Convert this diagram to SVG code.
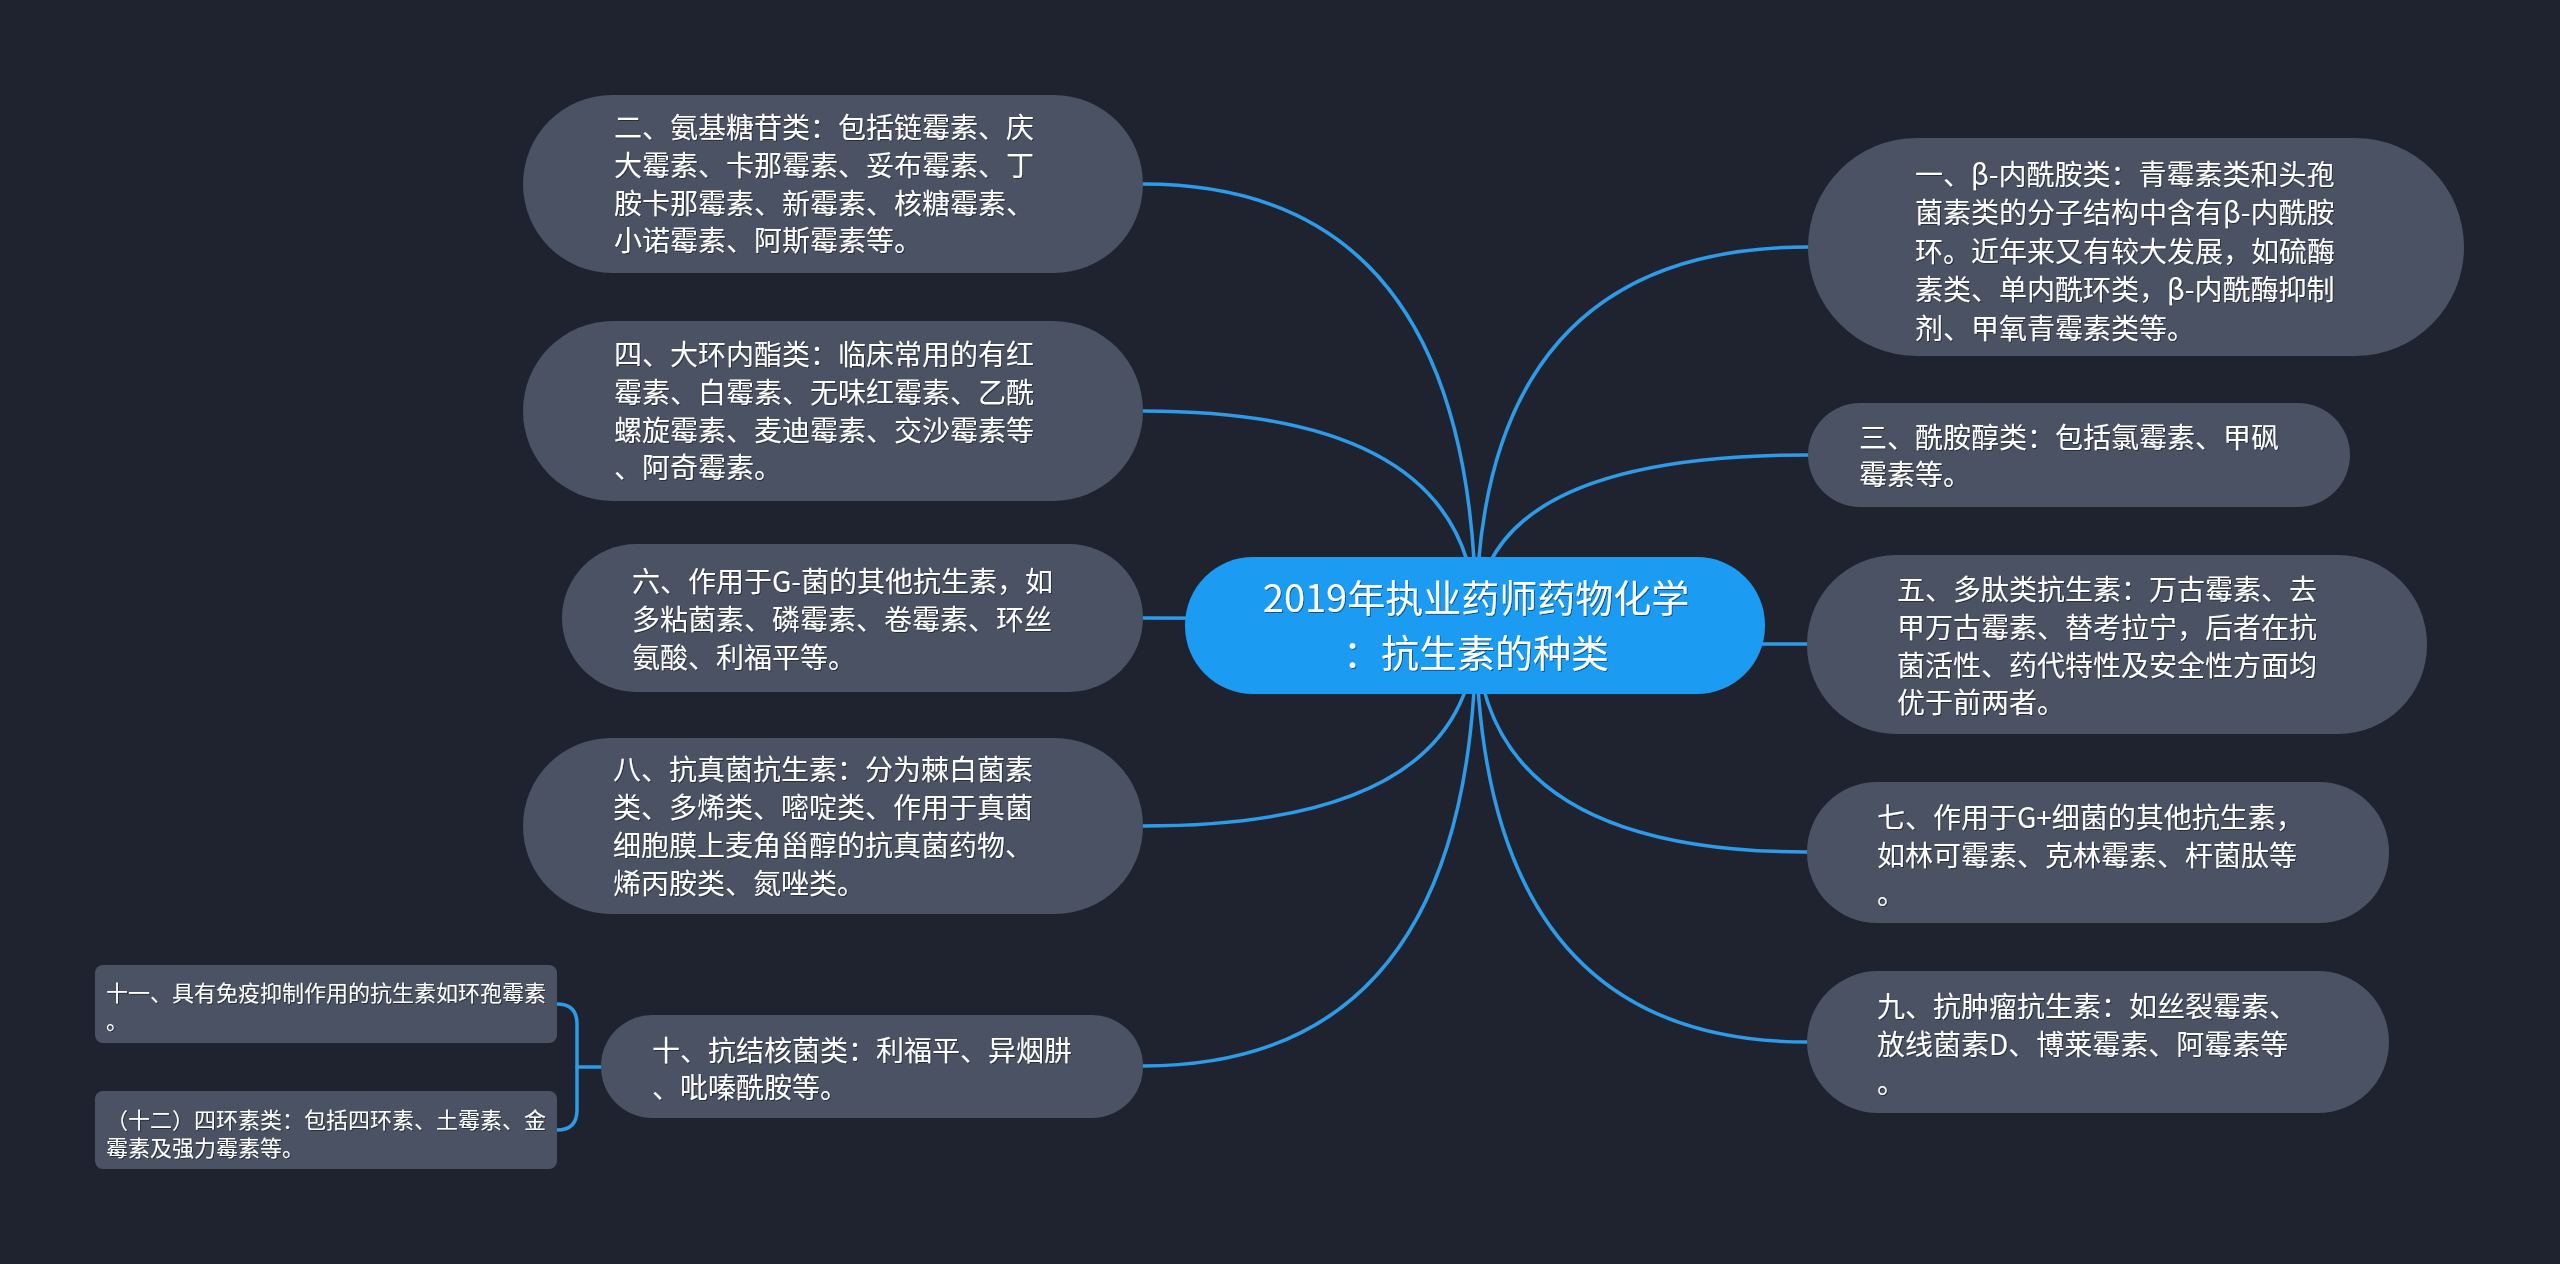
<svg xmlns="http://www.w3.org/2000/svg" width="2560" height="1264" viewBox="0 0 2560 1264">
<defs>
<style>
.bg{fill:#1f2330}
.node{fill:#4a5263}
.root{fill:#1b9bf1}
.conn{fill:none;stroke:#2d9be8;stroke-width:3.5;stroke-linecap:round}
.t{font-family:"Noto Sans CJK SC","Noto Sans CJK TC",sans-serif;fill:#ffffff;font-size:28px}
.ts{font-size:22px}
.tr{font-size:38px;text-anchor:middle}
</style>
<filter id="sh" x="-5%" y="-20%" width="110%" height="140%">
<feDropShadow dx="1" dy="1" stdDeviation="0.6" flood-color="#000000" flood-opacity="0.45"/>
</filter>
</defs>
<rect class="bg" x="0" y="0" width="2560" height="1264"/>
<g id="connectors">
<path class="conn" d="M1476 625 Q1476 184 1143 184"/>
<path class="conn" d="M1476 625 Q1476 411 1143 411"/>
<path class="conn" d="M1476 625 Q1476 618 1143 618"/>
<path class="conn" d="M1476 625 Q1476 826 1143 826"/>
<path class="conn" d="M1476 625 Q1476 1066 1143 1066"/>
<path class="conn" d="M1476 625 Q1476 247 1808 247"/>
<path class="conn" d="M1476 625 Q1476 455 1808 455"/>
<path class="conn" d="M1476 625 Q1476 644 1807 644"/>
<path class="conn" d="M1476 625 Q1476 852 1807 852"/>
<path class="conn" d="M1476 625 Q1476 1042 1807 1042"/>
<path class="conn" d="M557 1004 Q577 1004 577 1024 L577 1110 Q577 1130 557 1130"/>
<path class="conn" d="M577 1067 L601 1067"/>
</g>
<g id="root">
<rect class="root" x="1185" y="557" width="580" height="137" rx="68"/>
<text class="t tr" filter="url(#sh)"><tspan x="1476" y="612">2019年执业药师药物化学</tspan><tspan x="1476" y="667">：抗生素的种类</tspan></text>
</g>
<g id="n2">
<rect class="node" x="523" y="95" width="620" height="178" rx="89"/>
<text class="t" filter="url(#sh)"><tspan x="614" y="138">二、氨基糖苷类：包括链霉素、庆</tspan><tspan x="614" y="176">大霉素、卡那霉素、妥布霉素、丁</tspan><tspan x="614" y="214">胺卡那霉素、新霉素、核糖霉素、</tspan><tspan x="614" y="251">小诺霉素、阿斯霉素等。</tspan></text>
</g>
<g id="n4">
<rect class="node" x="523" y="321" width="620" height="180" rx="90"/>
<text class="t" filter="url(#sh)"><tspan x="614" y="365">四、大环内酯类：临床常用的有红</tspan><tspan x="614" y="403">霉素、白霉素、无味红霉素、乙酰</tspan><tspan x="614" y="441">螺旋霉素、麦迪霉素、交沙霉素等</tspan><tspan x="614" y="478">、阿奇霉素。</tspan></text>
</g>
<g id="n6">
<rect class="node" x="562" y="544" width="581" height="148" rx="74"/>
<text class="t" filter="url(#sh)"><tspan x="632" y="592">六、作用于G-菌的其他抗生素，如</tspan><tspan x="632" y="630">多粘菌素、磷霉素、卷霉素、环丝</tspan><tspan x="632" y="668">氨酸、利福平等。</tspan></text>
</g>
<g id="n8">
<rect class="node" x="523" y="738" width="620" height="176" rx="88"/>
<text class="t" filter="url(#sh)"><tspan x="613" y="780">八、抗真菌抗生素：分为棘白菌素</tspan><tspan x="613" y="818">类、多烯类、嘧啶类、作用于真菌</tspan><tspan x="613" y="856">细胞膜上麦角甾醇的抗真菌药物、</tspan><tspan x="613" y="894">烯丙胺类、氮唑类。</tspan></text>
</g>
<g id="n10">
<rect class="node" x="601" y="1015" width="542" height="103" rx="51"/>
<text class="t" filter="url(#sh)"><tspan x="652" y="1061">十、抗结核菌类：利福平、异烟肼</tspan><tspan x="652" y="1098">、吡嗪酰胺等。</tspan></text>
</g>
<g id="n11">
<rect class="node" x="95" y="965" width="462" height="78" rx="8"/>
<text class="t ts" filter="url(#sh)"><tspan x="106" y="1001">十一、具有免疫抑制作用的抗生素如环孢霉素</tspan><tspan x="106" y="1029">。</tspan></text>
</g>
<g id="n12">
<rect class="node" x="95" y="1091" width="462" height="78" rx="8"/>
<text class="t ts" filter="url(#sh)"><tspan x="106" y="1128">（十二）四环素类：包括四环素、土霉素、金</tspan><tspan x="106" y="1156">霉素及强力霉素等。</tspan></text>
</g>
<g id="n1">
<rect class="node" x="1808" y="138" width="656" height="218" rx="109"/>
<text class="t" filter="url(#sh)"><tspan x="1915" y="185">一、β-内酰胺类：青霉素类和头孢</tspan><tspan x="1915" y="223">菌素类的分子结构中含有β-内酰胺</tspan><tspan x="1915" y="262">环。近年来又有较大发展，如硫酶</tspan><tspan x="1915" y="300">素类、单内酰环类，β-内酰酶抑制</tspan><tspan x="1915" y="339">剂、甲氧青霉素类等。</tspan></text>
</g>
<g id="n3">
<rect class="node" x="1808" y="403" width="542" height="104" rx="52"/>
<text class="t" filter="url(#sh)"><tspan x="1859" y="448">三、酰胺醇类：包括氯霉素、甲砜</tspan><tspan x="1859" y="485">霉素等。</tspan></text>
</g>
<g id="n5">
<rect class="node" x="1807" y="555" width="620" height="179" rx="89"/>
<text class="t" filter="url(#sh)"><tspan x="1897" y="600">五、多肽类抗生素：万古霉素、去</tspan><tspan x="1897" y="638">甲万古霉素、替考拉宁，后者在抗</tspan><tspan x="1897" y="676">菌活性、药代特性及安全性方面均</tspan><tspan x="1897" y="713">优于前两者。</tspan></text>
</g>
<g id="n7">
<rect class="node" x="1807" y="782" width="582" height="141" rx="70"/>
<text class="t" filter="url(#sh)"><tspan x="1877" y="828">七、作用于G+细菌的其他抗生素，</tspan><tspan x="1877" y="866">如林可霉素、克林霉素、杆菌肽等</tspan><tspan x="1877" y="904">。</tspan></text>
</g>
<g id="n9">
<rect class="node" x="1807" y="971" width="582" height="142" rx="71"/>
<text class="t" filter="url(#sh)"><tspan x="1877" y="1017">九、抗肿瘤抗生素：如丝裂霉素、</tspan><tspan x="1877" y="1055">放线菌素D、博莱霉素、阿霉素等</tspan><tspan x="1877" y="1093">。</tspan></text>
</g>
</svg>
